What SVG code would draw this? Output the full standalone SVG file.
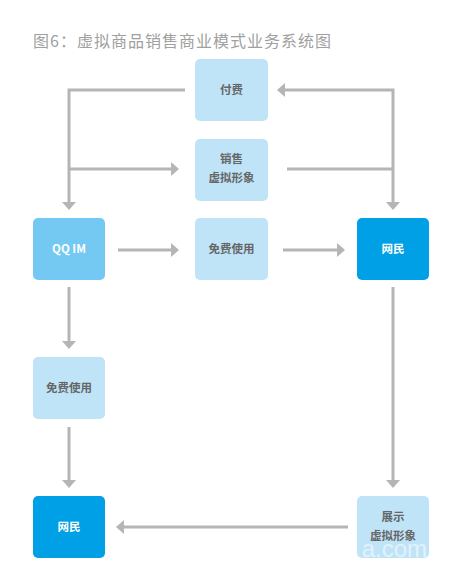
<svg xmlns="http://www.w3.org/2000/svg" width="456" height="579" viewBox="0 0 456 579">
<style>
.box{stroke:none}
.lt{fill:#bfe4f8}
.md{fill:#74c9f3}
.dk{fill:#00a0e6}
.t{font-family:"Noto Sans CJK SC","Noto Sans",sans-serif;font-size:11.5px;font-weight:bold;text-anchor:middle}
.tg{fill:#666666}
.tw{fill:#ffffff}
.c{fill:none;stroke:#b5b5b5;stroke-width:3}
.ah{fill:#b5b5b5}
</style>
<rect width="456" height="579" fill="#ffffff"/>
<text x="33" y="47" font-family="'Noto Sans CJK SC','Noto Sans',sans-serif" font-size="16" letter-spacing="1" fill="#a0a0a0">图6：虚拟商品销售商业模式业务系统图</text>
<g id="connectors">
<path class="c" d="M185 90 H69 V202"/>
<path class="ah" d="M62 202 H76 L69 210 Z"/>
<path class="c" d="M69 169 H171"/>
<path class="ah" d="M171 162 V176 L179 169 Z"/>
<path class="c" d="M287 169 H393"/>
<path class="c" d="M285 90 H393 V202"/>
<path class="ah" d="M285 83 V97 L277 90 Z"/>
<path class="ah" d="M386 202 H400 L393 210 Z"/>
<path class="c" d="M118 250 H171"/>
<path class="ah" d="M171 243 V257 L179 250 Z"/>
<path class="c" d="M283 250 H337"/>
<path class="ah" d="M337 243 V257 L345 250 Z"/>
<path class="c" d="M69 287 V341"/>
<path class="ah" d="M62 341 H76 L69 349 Z"/>
<path class="c" d="M69 427 V480"/>
<path class="ah" d="M62 480 H76 L69 488 Z"/>
<path class="c" d="M393 287 V480"/>
<path class="ah" d="M386 480 H400 L393 488 Z"/>
<path class="c" d="M348 527 H124"/>
<path class="ah" d="M124 520 V534 L116 527 Z"/>
</g>
<g id="pay"><rect class="box lt" x="195" y="59" width="73" height="62" rx="5"/><text class="t tg" x="231.5" y="94">付费</text></g>
<g id="sell"><rect class="box lt" x="195" y="139" width="73" height="62" rx="5"/><text class="t tg" x="231.5" y="163">销售</text><text class="t tg" x="231.5" y="182">虚拟形象</text></g>
<g id="qqim"><rect class="box md" x="33" y="218" width="72" height="62" rx="5"/><text class="t tw" x="69" y="253">QQ IM</text></g>
<g id="free1"><rect class="box lt" x="195" y="218" width="73" height="62" rx="5"/><text class="t tg" x="231.5" y="253">免费使用</text></g>
<g id="user1"><rect class="box dk" x="357" y="218" width="72" height="62" rx="5"/><text class="t tw" x="393" y="253">网民</text></g>
<g id="free2"><rect class="box lt" x="33" y="357" width="72" height="62" rx="5"/><text class="t tg" x="69" y="392">免费使用</text></g>
<g id="user2"><rect class="box dk" x="33" y="496" width="72" height="62" rx="5"/><text class="t tw" x="69" y="531">网民</text></g>
<g id="show"><rect class="box lt" x="357" y="496" width="72" height="62" rx="5"/><text class="t tg" x="393" y="521">展示</text><text class="t tg" x="393" y="540">虚拟形象</text></g>
<text x="427" y="557" font-family="'Liberation Sans',sans-serif" font-size="24" fill="#ffffff" fill-opacity="0.55" text-anchor="end">a.com</text>
</svg>
